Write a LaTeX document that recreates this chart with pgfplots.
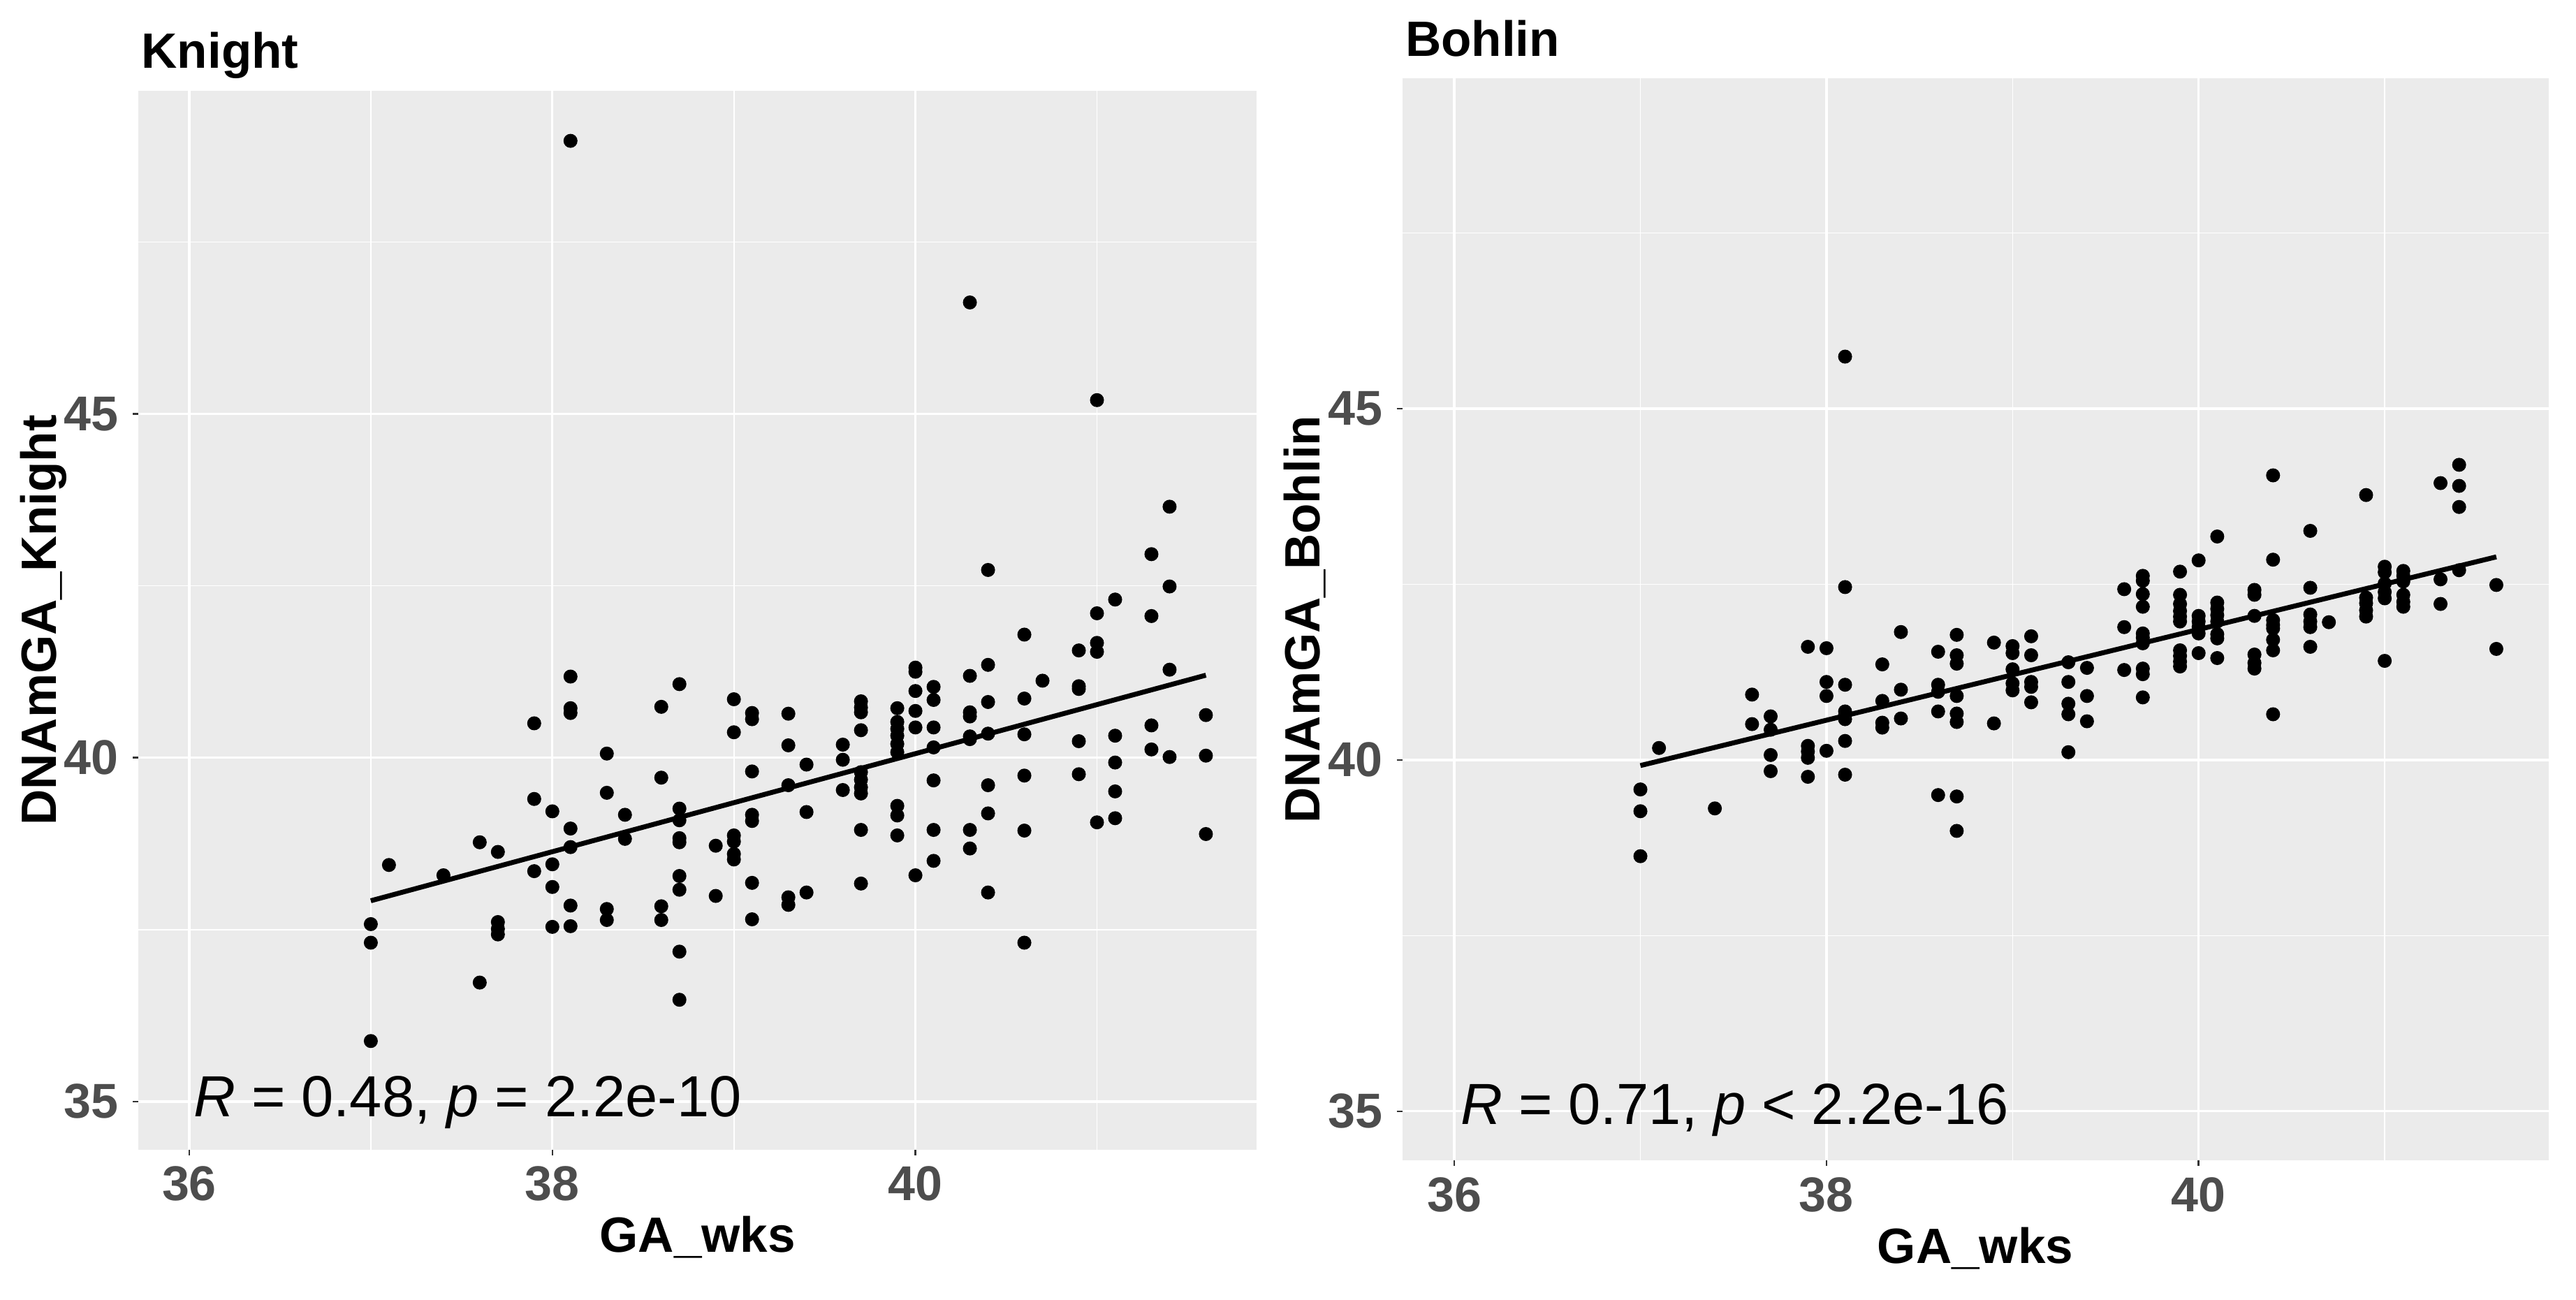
\documentclass[border=0pt]{standalone}
\usepackage{fontspec}
\setmainfont{Liberation Sans}
\usepackage{pgfplots}
\usepackage{pgfplotstable}
\pgfplotsset{compat=1.18}

\definecolor{panelgray}{HTML}{EBEBEB}
\definecolor{tickgray}{HTML}{4D4D4D}
\definecolor{tickdark}{HTML}{333333}

% GA_wks vs DNAmGA (Knight clock)
\pgfplotstableread{
ga dnam
37.0 37.58
37.0 37.31
37.0 35.88
37.1 38.44
37.4 38.29
37.6 38.77
37.6 36.73
37.7 38.63
37.7 37.61
37.7 37.51
37.7 37.43
37.9 40.50
37.9 39.40
37.9 38.35
38.0 39.22
38.0 38.45
38.0 38.12
38.0 37.54
38.1 48.97
38.1 41.18
38.1 40.72
38.1 40.65
38.1 38.97
38.1 38.70
38.1 37.85
38.1 37.55
38.3 40.06
38.3 39.49
38.3 37.80
38.3 37.64
38.4 39.17
38.4 38.82
38.6 40.74
38.6 39.71
38.6 37.84
38.6 37.64
38.7 41.07
38.7 39.26
38.7 39.09
38.7 38.83
38.7 38.77
38.7 38.28
38.7 38.08
38.7 37.18
38.7 36.48
38.9 38.72
38.9 37.99
39.0 40.85
39.0 40.37
39.0 38.87
39.0 38.78
39.0 38.60
39.0 38.52
39.1 40.65
39.1 40.56
39.1 39.80
39.1 39.17
39.1 39.08
39.1 38.18
39.1 37.65
39.3 40.64
39.3 40.18
39.3 39.60
39.3 37.97
39.3 37.86
39.4 39.90
39.4 39.21
39.4 38.04
39.6 40.19
39.6 39.97
39.6 39.53
39.7 40.82
39.7 40.73
39.7 40.66
39.7 40.40
39.7 39.79
39.7 39.68
39.7 39.57
39.7 39.48
39.7 38.95
39.7 38.17
39.9 40.72
39.9 40.52
39.9 40.42
39.9 40.32
39.9 40.20
39.9 40.08
39.9 39.30
39.9 39.16
39.9 38.87
40.0 41.31
40.0 41.25
40.0 40.97
40.0 40.68
40.0 40.44
40.0 38.29
40.1 41.03
40.1 40.84
40.1 40.44
40.1 40.15
40.1 39.67
40.1 38.95
40.1 38.50
40.3 46.62
40.3 41.19
40.3 40.66
40.3 40.60
40.3 40.31
40.3 40.27
40.3 38.95
40.3 38.68
40.4 42.73
40.4 41.35
40.4 40.81
40.4 40.35
40.4 39.60
40.4 39.19
40.4 38.04
40.6 41.79
40.6 40.86
40.6 40.34
40.6 39.74
40.6 38.94
40.6 37.31
40.7 41.12
40.9 41.56
40.9 41.04
40.9 41.00
40.9 40.24
40.9 39.76
41.0 45.20
41.0 42.10
41.0 41.67
41.0 41.54
41.0 39.06
41.1 42.30
41.1 40.32
41.1 39.93
41.1 39.51
41.1 39.12
41.3 42.96
41.3 42.06
41.3 40.47
41.3 40.12
41.4 43.65
41.4 42.49
41.4 41.28
41.4 40.01
41.6 40.62
41.6 40.03
41.6 38.89
}\knight

% GA_wks vs DNAmGA (Bohlin clock)
\pgfplotstableread{
ga dnam
37.0 39.58
37.0 39.27
37.0 38.63
37.1 40.17
37.4 39.31
37.6 40.93
37.6 40.51
37.7 40.62
37.7 40.43
37.7 40.07
37.7 39.84
37.9 41.61
37.9 40.20
37.9 40.12
37.9 40.03
37.9 39.76
38.0 41.59
38.0 41.11
38.0 40.91
38.0 40.13
38.1 45.74
38.1 42.46
38.1 41.07
38.1 40.69
38.1 40.64
38.1 40.58
38.1 40.27
38.1 39.79
38.3 41.36
38.3 40.84
38.3 40.53
38.3 40.46
38.4 41.82
38.4 41.00
38.4 40.59
38.6 41.54
38.6 41.07
38.6 40.97
38.6 40.69
38.6 39.50
38.7 41.78
38.7 41.49
38.7 41.37
38.7 40.91
38.7 40.66
38.7 40.54
38.7 39.48
38.7 38.99
38.9 41.67
38.9 40.52
39.0 41.62
39.0 41.52
39.0 41.29
39.0 41.09
39.0 40.99
39.1 41.76
39.1 41.49
39.1 41.11
39.1 41.04
39.1 40.82
39.3 41.39
39.3 41.11
39.3 40.80
39.3 40.65
39.3 40.11
39.4 41.31
39.4 40.91
39.4 40.55
39.6 42.43
39.6 41.89
39.6 41.28
39.7 42.62
39.7 42.55
39.7 42.36
39.7 42.18
39.7 41.80
39.7 41.74
39.7 41.66
39.7 41.30
39.7 41.22
39.7 40.89
39.9 42.68
39.9 42.35
39.9 42.22
39.9 42.12
39.9 42.04
39.9 41.97
39.9 41.56
39.9 41.48
39.9 41.40
39.9 41.33
40.0 42.84
40.0 42.05
40.0 41.97
40.0 41.89
40.0 41.80
40.0 41.52
40.1 43.18
40.1 42.24
40.1 42.15
40.1 42.06
40.1 41.97
40.1 41.79
40.1 41.73
40.1 41.45
40.3 42.42
40.3 42.35
40.3 42.05
40.3 41.50
40.3 41.38
40.3 41.30
40.4 44.05
40.4 42.85
40.4 41.99
40.4 41.92
40.4 41.87
40.4 41.71
40.4 41.56
40.4 40.65
40.6 43.26
40.6 42.45
40.6 42.07
40.6 41.97
40.6 41.89
40.6 41.61
40.7 41.96
40.9 43.77
40.9 42.31
40.9 42.23
40.9 42.13
40.9 42.04
41.0 42.75
41.0 42.67
41.0 42.51
41.0 42.39
41.0 42.30
41.0 41.41
41.1 42.69
41.1 42.62
41.1 42.54
41.1 42.35
41.1 42.25
41.1 42.18
41.3 43.94
41.3 42.57
41.3 42.22
41.4 44.20
41.4 43.90
41.4 43.60
41.4 42.70
41.6 42.49
41.6 41.58
}\bohlin

\pgfplotsset{
  ggpanel/.style={
    scale only axis,
    xmin=35.72, xmax=41.88,
    ymin=34.3, ymax=49.7,
    axis background/.style={fill=panelgray},
    axis line style={draw=none},
    xtick={36,38,40}, ytick={35,40,45},
    minor xtick={37,39,41}, minor ytick={37.5,42.5,47.5},
    grid=both,
    major grid style={white, line width=0.66pt},
    minor grid style={white, line width=0.33pt},
    tick align=outside,
    tick pos=left,
    major tick length=1.6pt,
    minor tick length=0pt,
    every tick/.style={tickdark, line width=0.5pt},
    /pgf/number format/assume math mode=true,
    ticklabel style={font=\fontsize{14}{14}\selectfont\bfseries, text=tickgray, inner sep=0pt},
    yticklabel style={xshift=-3.9pt},
    xticklabel style={yshift=-3pt},
    label style={font=\fontsize{14.2}{14.2}\selectfont\bfseries},
    xlabel style={at={(axis description cs:0.5,0)}, anchor=base, yshift=-29.4pt},
    every axis title shift=0pt,
    title style={font=\fontsize{14.2}{14.2}\selectfont\bfseries, inner sep=0pt,
      at={(axis description cs:0,1)}, anchor=base west, xshift=0.7pt, yshift=6.4pt},
  },
  dots/.style={only marks, mark=*, mark size=1.8pt, black},
  fit/.style={black, line width=1.4pt, mark=none},
}

\begin{document}
\begin{tikzpicture}
\path[use as bounding box] (0,0) rectangle (737.6pt,372pt);

\begin{axis}[ggpanel,
  at={(39.64pt,42.84pt)}, anchor=south west,
  width=320.2pt, height=303.2pt,
  title={Knight},
  xlabel={GA\_wks},
  ylabel={DNAmGA\_Knight},
  ylabel style={at={(axis description cs:-0.0738,0.5)}, anchor=base},
]
\addplot[dots] table[x=ga, y=dnam] {\knight};
\addplot[fit] coordinates {(37,37.92) (41.6,41.20)};
\node[anchor=base west, inner sep=0pt, font=\fontsize{16.6}{16.6}\selectfont]
  at (axis cs:36.02,34.78) {\textit{R} = 0.48, \textit{p} = 2.2e-10};
\end{axis}

\begin{axis}[ggpanel,
  at={(401.5pt,39.76pt)}, anchor=south west,
  width=328.2pt, height=309.8pt,
  title={Bohlin},
  xlabel={GA\_wks},
  ylabel={DNAmGA\_Bohlin},
  ylabel style={at={(axis description cs:-0.0720,0.5)}, anchor=base},
]
\addplot[dots] table[x=ga, y=dnam] {\bohlin};
\addplot[fit] coordinates {(37,39.92) (41.6,42.89)};
\node[anchor=base west, inner sep=0pt, font=\fontsize{16.6}{16.6}\selectfont]
  at (axis cs:36.03,34.81) {\textit{R} = 0.71, \textit{p} \textless{} 2.2e-16};
\end{axis}
\end{tikzpicture}
\end{document}
